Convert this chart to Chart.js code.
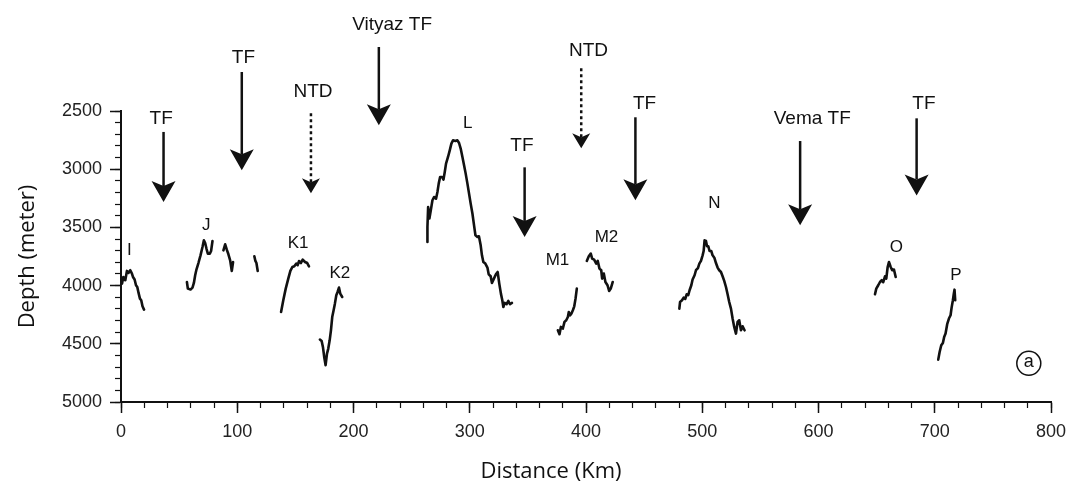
<!DOCTYPE html>
<html><head><meta charset="utf-8">
<script src="https://cdn.jsdelivr.net/npm/chart.js@4.4.0/dist/chart.umd.min.js"></script>
<style>html,body{margin:0;padding:0;background:#fff;}</style>
</head><body>
<canvas id="c" width="1076" height="493"></canvas>
<script>
// ---- Profiles (distance km, depth m) ----
const I_dist  = [0.9,2.0,3.7,5.1,6.5,8.0,9.4,10.3,11.7,12.9,14.0,15.1,16.3,17.4,18.5,19.8];
const I_depth = [3983,3926,3954,3874,3891,3868,3897,3926,3948,3997,4012,4063,4112,4126,4178,4206];
const J_dist  = [56.7,57.5,59.8,61.5,62.7,63.8,64.9,66.6,68.4,70.1,71.3,72.4,73.5,74.7,76.4,77.5,78.7];
const J_depth = [3969,4026,4034,4017,3977,3911,3862,3806,3740,3668,3611,3634,3682,3725,3725,3703,3617];
const J2_dist  = [88.1,89.6,91.0,92.4,93.9,95.3,96.4];
const J2_depth = [3697,3645,3691,3731,3783,3874,3797];
const J3_dist  = [114.7,115.6,116.5,117.6];
const J3_depth = [3748,3788,3806,3874];
const K1_dist  = [137.7,139.6,141.7,143.9,145.7,147.4,149.1,150.8,152.0,153.1,154.8,156.3,158.3,160.2,161.7];
const K1_depth = [4227,4126,4026,3940,3874,3840,3834,3811,3825,3789,3806,3777,3797,3806,3834];
const K2_dist  = [171.1,172.6,173.7,174.8,176.0,177.2,178.3,179.5,180.6,181.7,182.9,184.0,185.2,186.3,187.5,188.6,190.3];
const K2_depth = [4464,4476,4527,4613,4684,4584,4541,4470,4384,4270,4212,4155,4083,4055,4017,4069,4098];
const L_dist  = [263.6,263.6,264.2,265.3,266.5,267.9,269.3,271.0,272.2,273.3,274.5,276.2,277.4,278.5,279.6,281.3,282.8,284.2,285.6,287.7,289.4,290.8,292.2,293.7,295.1,296.5,298.0,299.4,300.8,302.3,303.7,304.9,306.6,307.9,309.4,310.5,311.7,313.4,315.2,316.3,318.0,319.1,320.8,322.5,324.0,325.4,326.8,328.0,328.9,330.0,331.7,333.2,334.6,336.3];
const L_depth = [3625,3496,3325,3424,3353,3267,3239,3253,3196,3124,3067,3067,3089,3024,2952,2895,2838,2780,2752,2758,2752,2775,2823,2895,2966,3038,3124,3210,3296,3381,3482,3568,3582,3576,3654,3740,3797,3811,3845,3903,3920,3977,3940,3903,3883,3983,4069,4126,4184,4149,4160,4132,4160,4149];
const M1_dist  = [375.8,377.2,378.4,380.1,381.5,383.0,384.4,385.2,386.4,387.5,388.7,389.9,391.0,392.1];
const M1_depth = [4384,4418,4355,4369,4312,4298,4270,4227,4255,4240,4212,4178,4112,4026];
const M2_dist  = [400.7,402.4,404.1,405.3,407.0,408.8,410.1,411.6,413.1,413.9,415.3,416.7,418.5,419.9,421.3,423.0];
const M2_depth = [3788,3748,3725,3768,3777,3811,3788,3854,3868,3940,3897,3969,3997,4046,4026,3969];
const N_dist  = [480.3,480.9,482.6,484.0,485.4,486.6,488.0,489.1,490.6,491.7,493.4,494.6,496.3,497.5,498.9,500.3,501.2,502.0,503.2,504.1,505.2,506.3,507.8,508.9,510.4,511.8,513.2,514.6,516.1,517.5,518.9,520.4,521.8,523.2,524.7,526.1,527.5,529.0,530.4,531.8,533.3,534.7,536.4];
const N_depth = [4198,4141,4126,4103,4115,4075,4081,4040,3997,3948,3911,3868,3849,3811,3788,3740,3703,3611,3617,3662,3662,3703,3703,3740,3760,3806,3845,3868,3883,3920,3960,4012,4075,4141,4198,4283,4355,4412,4312,4298,4384,4349,4384];
const O_dist  = [648.6,649.7,651.4,652.9,654.4,655.7,657.2,658.3,659.5,660.6,662.1,663.4,664.9,666.4];
const O_depth = [4075,4026,3997,3969,3954,3971,3920,3940,3840,3797,3840,3868,3862,3926];
const P_dist  = [703.0,704.2,705.6,707.0,708.1,709.3,710.7,712.2,713.6,714.5,715.6,716.4,717.0,717.6];
const P_depth = [4636,4570,4513,4493,4441,4412,4332,4283,4255,4189,4126,4069,4035,4126];

// ---- Axis ticks ----
const xTickStep = 100, xMinorStep = 20, xMin = 0, xMax = 800;
const yTickStep = 500, yMinorStep = 100, yMin = 2500, yMax = 5000;

// ---- Arrows (transform faults / NTD) ----
const arrowText   = ['TF','TF','NTD','Vityaz TF','TF','NTD','TF','Vema TF','TF'];
const arrowDist   = [36.6,103.9,163.4,221.8,347.2,395.9,442.5,584.2,684.4];
const arrowTop    = [2680,2165,2520,1950,2984,2133,2554,2758,2563];
const arrowTip    = [3282,3009,3207,2622,3582,2820,3267,3482,3225];
const arrowDotted = [false,false,true,false,false,true,false,false,false];
const arrowTextDist  = [34.6,105.3,165.2,233.2,344.9,402.2,450.4,594.6,690.7];
const arrowTextDepth = [2563,2039,2339,1755,2795,1979,2434,2563,2434];

// ---- Segment labels ----
const segLabel      = ['I','J','K1','K2','L','M1','M2','N','O','P'];
const segLabelDist  = [7.2,73.3,152.3,188.3,298.3,375.5,417.6,510.4,666.9,718.2];
const segLabelDepth = [3697,3482,3636,3894,2606,3783,3585,3293,3671,3912];
const panelTag = 'a', panelTagDist = 780.9, panelTagDepth = 4668;

const profiles = [
  [I_dist,I_depth],[J_dist,J_depth],[J2_dist,J2_depth],[J3_dist,J3_depth],
  [K1_dist,K1_depth],[K2_dist,K2_depth],[L_dist,L_depth],[M1_dist,M1_depth],
  [M2_dist,M2_depth],[N_dist,N_depth],[O_dist,O_depth],[P_dist,P_depth]
];

const datasets = profiles.map(([d, z]) => ({
  data: d.map((v, i) => ({x: v, y: z[i]})),
  showLine: true, pointRadius: 0, borderColor: '#111', borderWidth: 2.6,
  borderJoinStyle: 'round', borderCapStyle: 'round',
  tension: 0, xAxisID: 'x', yAxisID: 'y'
}));

const SANS = "'Liberation Sans', Arial, sans-serif";
const TITLE = "'Open Sans', sans-serif";

const annot = {
  id: 'annot',
  afterDatasetsDraw(chart) {
    const {ctx} = chart;
    const x = chart.scales.x, y = chart.scales.y;
    ctx.save();
    ctx.fillStyle = '#111'; ctx.strokeStyle = '#111';
    ctx.textAlign = 'center'; ctx.textBaseline = 'middle';
    for (let i = 0; i < arrowDist.length; i++) {
      const px = x.getPixelForValue(arrowDist[i]);
      const y0 = y.getPixelForValue(arrowTop[i]);
      const y1 = y.getPixelForValue(arrowTip[i]);
      const dotted = arrowDotted[i];
      const hw = dotted ? 9 : 12, hh = dotted ? 15 : 21, notch = dotted ? 4 : 5;
      ctx.lineWidth = 2.5;
      ctx.setLineDash(dotted ? [3, 3] : []);
      ctx.beginPath(); ctx.moveTo(px, y0); ctx.lineTo(px, y1 - hh + notch); ctx.stroke();
      ctx.setLineDash([]);
      ctx.beginPath();
      ctx.moveTo(px, y1); ctx.lineTo(px - hw, y1 - hh); ctx.lineTo(px, y1 - hh + notch);
      ctx.lineTo(px + hw, y1 - hh); ctx.closePath(); ctx.fill();
      ctx.font = '19px ' + SANS;
      ctx.fillText(arrowText[i], x.getPixelForValue(arrowTextDist[i]), y.getPixelForValue(arrowTextDepth[i]));
    }
    ctx.font = '17px ' + SANS;
    for (let i = 0; i < segLabel.length; i++) {
      ctx.fillText(segLabel[i], x.getPixelForValue(segLabelDist[i]), y.getPixelForValue(segLabelDepth[i]));
    }
    const tx = x.getPixelForValue(panelTagDist), ty = y.getPixelForValue(panelTagDepth);
    ctx.lineWidth = 1.5;
    ctx.beginPath(); ctx.arc(tx, ty, 12, 0, Math.PI * 2); ctx.stroke();
    ctx.font = '18px ' + SANS;
    ctx.fillText(panelTag, tx, ty - 1);
    // x-axis title
    ctx.font = '22px ' + TITLE;
    ctx.fillText('Distance (Km)', 551, 472);
    ctx.restore();
  }
};

function majorAxis(pos, step, min, max, extra) {
  return Object.assign({
    type: 'linear', position: pos, min, max, weight: 1,
    ticks: {stepSize: step, color: '#222', font: {family: SANS, size: 18}, padding: 8, autoSkip: false, maxRotation: 0,
            callback: (v) => String(v)},
    grid: {drawOnChartArea: false, drawTicks: true, tickLength: 11, tickWidth: 1.5, tickColor: '#111'},
    border: {display: true, color: '#111', width: 2}
  }, extra);
}
function minorAxis(pos, step, min, max, extra) {
  return Object.assign({
    type: 'linear', position: pos, min, max, weight: 0,
    ticks: {stepSize: step, display: false, autoSkip: false},
    grid: {drawOnChartArea: false, drawTicks: true, tickLength: 6, tickWidth: 1.2, tickColor: '#111'},
    border: {display: false},
    afterFit(s) { if (pos === 'bottom') s.height = 0; else s.width = 0; }
  }, extra);
}

new Chart(document.getElementById('c'), {
  type: 'scatter',
  data: {datasets},
  options: {
    responsive: false, animation: false, devicePixelRatio: 1,
    layout: {padding: {top: 111, right: 25, left: 0, bottom: 0}},
    plugins: {legend: {display: false}, tooltip: {enabled: false}},
    scales: {
      x: majorAxis('bottom', xTickStep, xMin, xMax, {afterFit(s) { s.height = 91; }}),
      xm: minorAxis('bottom', xMinorStep, xMin, xMax, {}),
      y: majorAxis('left', yTickStep, yMin, yMax, {
        reverse: true,
        afterFit(s) { s.width = 121; },
        title: {display: true, text: 'Depth (meter)', color: '#111', font: {family: TITLE, size: 22}, padding: {top: 15, bottom: 0}}
      }),
      ym: minorAxis('left', yMinorStep, yMin, yMax, {reverse: true})
    }
  },
  plugins: [annot]
});
</script>
</body></html>
